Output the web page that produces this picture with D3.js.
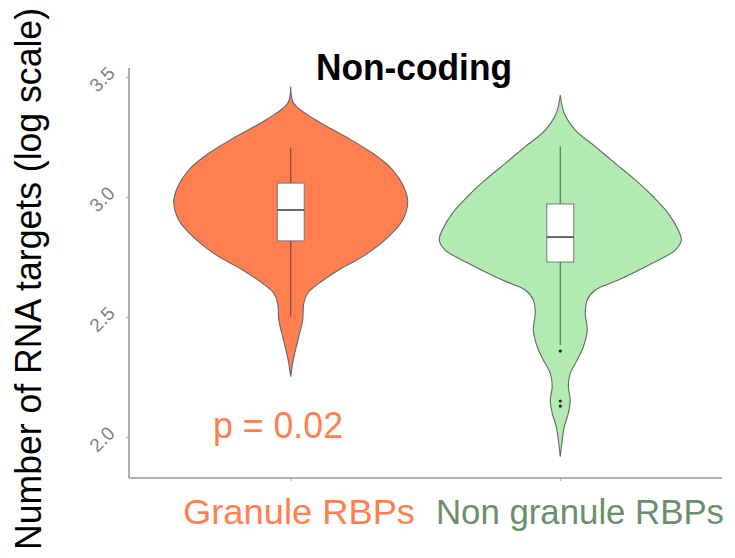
<!DOCTYPE html>
<html>
<head>
<meta charset="utf-8">
<script src="https://cdn.jsdelivr.net/npm/d3@7"></script>
<style>
  body { margin: 0; background: #fff; }
  text { font-family: "Liberation Sans", Arial, sans-serif; }
</style>
</head>
<body>
<div id="chart"></div>
<script>
// groups on the x axis
var groups = ["Granule RBPs", "Non granule RBPs"];

// violin outlines: log10 value levels and relative density (half-width, max ~1)
var granuleLevels = [3.460, 3.390, 3.321, 3.251, 3.182, 3.1125, 3.043, 2.980, 2.904, 2.835, 2.765, 2.696, 2.640, 2.599, 2.557, 2.4875, 2.418, 2.349, 2.307, 2.251];
var granuleDensity = [0, 0.025, 0.205, 0.451, 0.672, 0.836, 0.926, 0.959, 0.918, 0.803, 0.631, 0.393, 0.230, 0.139, 0.107, 0.098, 0.066, 0.033, 0.016, 0];

var nonGranuleLevels = [3.425, 3.349, 3.279, 3.210, 3.140, 3.071, 3.001, 2.932, 2.8625, 2.821, 2.779, 2.724, 2.654, 2.6125, 2.571, 2.515, 2.446, 2.376, 2.321, 2.265, 2.210, 2.154, 2.099, 2.043, 1.9875, 1.918];
var nonGranuleDensity = [0, 0.033, 0.123, 0.287, 0.451, 0.615, 0.762, 0.885, 0.967, 0.992, 0.943, 0.754, 0.475, 0.287, 0.221, 0.205, 0.221, 0.189, 0.139, 0.082, 0.066, 0.082, 0.066, 0.033, 0.016, 0];

// box plot stats per group
var q1 = [2.817, 2.729];
var medians = [2.946, 2.833];
var q3 = [3.058, 2.971];
var whiskerLow = [2.501, 2.383];
var whiskerHigh = [3.203, 3.210];
var outliers = [[], [2.358, 2.150, 2.129]];

var yTicks = [2.0, 2.5, 3.0, 3.5];

var fills = ["#ff7f50", "#b2ebb2"];
var labelColors = ["#ff7f50", "#6b8f6b"];

var svgWidth = 735;
var svgHeight = 558;

var plot = { left: 129, right: 722, top: 68, bottom: 477 };

var svg = d3.select("#chart")
    .append("svg")
    .attr("width", svgWidth)
    .attr("height", svgHeight);

// scales
var xScale = d3.scalePoint()
    .domain(groups)
    .range([plot.left, plot.right])
    .padding(0.6);

var yScale = d3.scaleLinear()
    .domain([2.0, 3.5])
    .range([437, 77]);

var wScale = d3.scaleLinear()
    .domain([0, 1])
    .range([0, 122]);

var step = xScale.step();
var boxHalf = step * 0.05;

// violins
var violinData = [
    { name: groups[0], levels: granuleLevels, density: granuleDensity },
    { name: groups[1], levels: nonGranuleLevels, density: nonGranuleDensity }
];

violinData.forEach(function(g, i) {
    var cx = xScale(g.name);
    var pts = g.levels.map(function(v, j) { return { v: v, d: g.density[j] }; });
    var area = d3.area()
        .curve(d3.curveCatmullRom)
        .y(d => yScale(d.v))
        .x0(d => cx - wScale(d.d))
        .x1(d => cx + wScale(d.d));
    svg.append("path")
        .datum(pts)
        .attr("d", area)
        .attr("fill", fills[i])
        .attr("stroke", "#666")
        .attr("stroke-width", 1.1);
});

// boxplots
groups.forEach(function(name, i) {
    var cx = xScale(name);
    var g = svg.append("g");
    g.append("line")
        .attr("x1", cx).attr("x2", cx)
        .attr("y1", yScale(whiskerHigh[i])).attr("y2", yScale(whiskerLow[i]))
        .attr("stroke", "#333")
        .attr("stroke-opacity", 0.65)
        .attr("stroke-width", 1.2);
    g.append("rect")
        .attr("x", cx - boxHalf)
        .attr("width", boxHalf * 2)
        .attr("y", yScale(q3[i]))
        .attr("height", yScale(q1[i]) - yScale(q3[i]))
        .attr("fill", "#fff")
        .attr("stroke", "#777")
        .attr("stroke-width", 1);
    g.append("line")
        .attr("x1", cx - boxHalf).attr("x2", cx + boxHalf)
        .attr("y1", yScale(medians[i])).attr("y2", yScale(medians[i]))
        .attr("stroke", "#444")
        .attr("stroke-width", 1.6);
    g.selectAll("circle")
        .data(outliers[i])
        .enter()
        .append("circle")
        .attr("cx", cx)
        .attr("cy", d => yScale(d))
        .attr("r", 1.6)
        .attr("fill", "#222");
});

// axes
var yAxis = svg.append("g")
    .attr("transform", `translate(${plot.left},0)`)
    .call(d3.axisLeft(yScale).tickValues(yTicks).tickSize(3).tickFormat(d3.format(".1f")));
yAxis.select(".domain").remove();
yAxis.selectAll(".tick line").attr("stroke", "#aaa");
yAxis.selectAll(".tick text")
    .attr("x", 0).attr("y", 0).attr("dy", 0)
    .attr("text-anchor", "end")
    .attr("transform", "translate(-13,-3) rotate(-45)")
    .attr("fill", "#7f7f7f")
    .attr("font-size", 19)
    .attr("font-family", "Liberation Sans, Arial, sans-serif");

var xAxis = svg.append("g")
    .attr("transform", `translate(0,${plot.bottom + 1})`)
    .call(d3.axisBottom(xScale).tickSize(3).tickFormat(""));
xAxis.select(".domain").remove();
xAxis.selectAll(".tick line").attr("stroke", "#aaa");

// frame lines
svg.append("line")
    .attr("x1", plot.left).attr("x2", plot.left)
    .attr("y1", plot.top).attr("y2", plot.bottom + 1)
    .attr("stroke", "#999").attr("stroke-width", 1.6);
svg.append("line")
    .attr("x1", plot.left).attr("x2", plot.right)
    .attr("y1", plot.bottom + 1).attr("y2", plot.bottom + 1)
    .attr("stroke", "#999").attr("stroke-width", 1.6);

// title
svg.append("text")
    .attr("x", 316).attr("y", 80)
    .attr("font-size", 37)
    .attr("font-weight", "bold")
    .attr("textLength", 196)
    .attr("lengthAdjust", "spacingAndGlyphs")
    .text("Non-coding");

// p value
svg.append("text")
    .attr("x", 213).attr("y", 438)
    .attr("font-size", 36)
    .attr("fill", "#ff7f50")
    .attr("textLength", 130)
    .attr("lengthAdjust", "spacingAndGlyphs")
    .text("p = 0.02");

// group labels
var labelX = [183, 436];
var labelW = [232, 288];
groups.forEach(function(name, i) {
    svg.append("text")
        .attr("x", labelX[i]).attr("y", 524)
        .attr("font-size", 34.5)
        .attr("fill", labelColors[i])
        .attr("textLength", labelW[i])
        .attr("lengthAdjust", "spacingAndGlyphs")
        .text(name);
});

// y axis title
svg.append("text")
    .attr("transform", "translate(41,550) rotate(-90)")
    .attr("font-size", 36)
    .attr("fill", "#000")
    .attr("textLength", 542)
    .attr("lengthAdjust", "spacingAndGlyphs")
    .text("Number of RNA targets (log scale)");
</script>
</body>
</html>
